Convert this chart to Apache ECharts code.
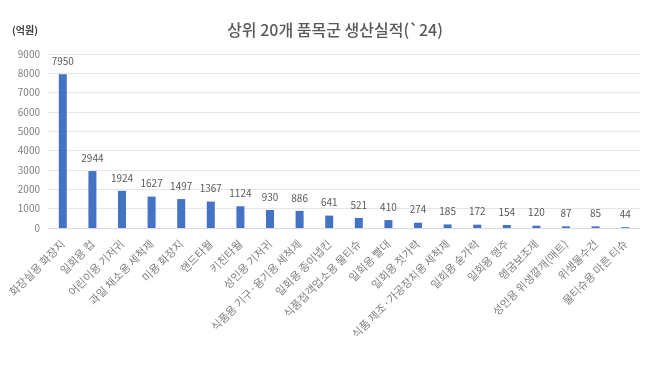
<!DOCTYPE html>
<html><head><meta charset="utf-8">
<script src="https://cdn.jsdelivr.net/npm/echarts@6/dist/echarts.min.js"></script>
<style>html,body{margin:0;padding:0;background:#fff}#c{width:650px;height:370px}</style>
</head><body><div id="c"></div>
<script>
const categories = ["화장실용 화장지","일회용 컵","어린이용 기저귀","과일 채소용 세척제","미용 화장지","핸드타월","키친타월","성인용 기저귀","식품용 기구·용기용 세척제","일회용 종이냅킨","식품접객업소용 물티슈","일회용 빨대","일회용 젓가락","식품 제조·가공장치용 세척제","일회용 숟가락","일회용 행주","헹굼보조제","성인용 위생깔개(매트)","위생물수건","물티슈용 마른 티슈"];
const values = [7950,2944,1924,1627,1497,1367,1124,930,886,641,521,410,274,185,172,154,120,87,85,44];
const yTicks = {min:0,max:9000,interval:1000};
const chart = echarts.init(document.getElementById('c'));
const font = '"Noto Sans CJK KR","Noto Sans",sans-serif';
chart.setOption({
  animation:false,
  title:{text:'상위 20개 품목군 생산실적(`24)',left:330,top:17,textAlign:'center',textStyle:{fontFamily:font,fontSize:16,fontWeight:500,color:'#595959'}},
  graphic:[{type:'text',left:12,top:25,style:{text:'(억원)',font:'bold 10px '+font,fill:'#404040'}}],
  grid:{left:48,right:10,top:54,bottom:142},
  xAxis:{type:'category',data:categories,axisLine:{show:true,lineStyle:{color:'#d9d9d9'}},axisTick:{show:false},
    axisLabel:{rotate:45,interval:0,fontFamily:font,fontSize:11,color:'#7f7f7f',margin:14}},
  yAxis:{type:'value',min:yTicks.min,max:yTicks.max,interval:yTicks.interval,axisLine:{show:false},axisTick:{show:false},
    splitLine:{lineStyle:{color:'#e6e6e6'}},axisLabel:{fontFamily:font,fontSize:10,color:'#7f7f7f',margin:8,formatter:v=>String(v)}},
  series:[{type:'bar',data:values,barWidth:8,itemStyle:{color:'#4472C4'},
    label:{show:true,position:'top',distance:8,fontFamily:font,fontSize:10,color:'#595959'}}]
});
</script></body></html>
